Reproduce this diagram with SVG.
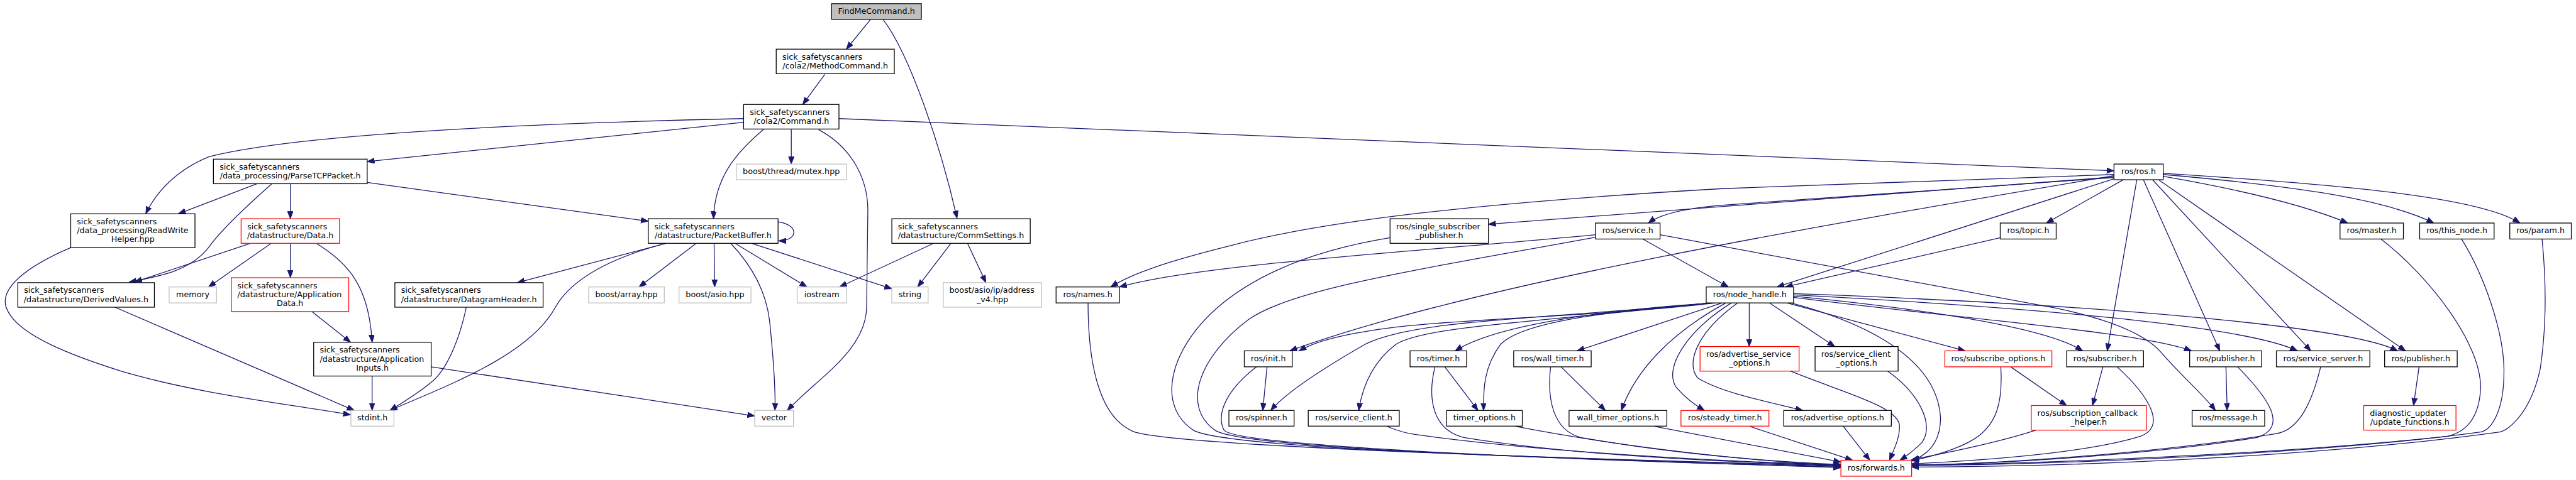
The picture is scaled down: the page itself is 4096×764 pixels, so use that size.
<svg xmlns="http://www.w3.org/2000/svg" width="4096" height="764" viewBox="0 0 4096 764">
<style>
.n rect{fill:#fff;stroke:#000;stroke-width:1.3}
.n.g rect{stroke:#bfbfbf}
.n.r rect{stroke:#ff0000}
.n.f rect{fill:#bfbfbf}
text{font-family:"DejaVu Sans","Liberation Sans",sans-serif;font-size:13px;fill:#000}
.c{text-anchor:middle}
#edges path{fill:none;stroke:#191970;stroke-width:1.3;marker-end:url(#a)}
</style>
<defs>
<marker id="a" markerUnits="userSpaceOnUse" markerWidth="14" markerHeight="11" refX="12" refY="4.5" orient="auto">
<path d="M0,0 L12,4.5 L0,9 z" fill="#191970" stroke="#191970" stroke-width="1"/>
</marker>
</defs>
<rect width="4096" height="764" fill="#fff"/>
<g transform="scale(0.978)">
<g id="edges">
<path d="M1415,32 L1376,80"/>
<path d="M1436,32 C1480,90 1530,240 1556,355"/>
<path d="M1341,121 L1305,170"/>
<path d="M1364,193 L3437,278"/>
<path d="M1209,193 C900,200 500,215 340,255 C290,275 255,310 237,348"/>
<path d="M1209,199 L597,263"/>
<path d="M1241,211 C1195,250 1162,290 1160,356"/>
<path d="M1286.5,211 L1286.5,267"/>
<path d="M1331,211 C1385,240 1410,290 1411,340 L1409,500 C1408,570 1330,615 1280,668"/>
<path d="M418,299 L290,348"/>
<path d="M442,299 C390,345 355,380 339,403 C310,440 260,450 210,459"/>
<path d="M472,299 L472,356"/>
<path d="M597,297 L1054,360"/>
<path d="M407,396 L219,459"/>
<path d="M441,396 L339,467"/>
<path d="M472,396 L472,452"/>
<path d="M514,396 C570,430 600,470 605,557"/>
<path d="M115,403 C40,435 0,470 10,500 C25,545 120,580 200,605 C320,640 450,655 570,675"/>
<path d="M187,500 L576,668"/>
<path d="M507,507 L570,557"/>
<path d="M605,612 L605,668"/>
<path d="M701,597 L1227,677"/>
<path d="M1265,361 C1300,366 1298,392 1266,392"/>
<path d="M1083,396 L841,460"/>
<path d="M1075,398 C960,430 920,470 903,500 C860,580 720,630 634,668"/>
<path d="M1132,396 L1039,467"/>
<path d="M1161,396 L1162,467"/>
<path d="M1188,396 C1225,435 1248,480 1252,530 C1258,590 1261,630 1260,668"/>
<path d="M1195,396 L1312,467"/>
<path d="M1222,396 L1450,470"/>
<path d="M758,500 C750,540 730,600 700,623 C680,640 655,655 634,668"/>
<path d="M1546,396 L1492,467"/>
<path d="M1573,396 L1603,460"/>
<path d="M1518,396 L1365,467"/>
<path d="M3437,284 L2800,307 C2400,330 2150,360 2000,400 C1900,425 1840,445 1806,467"/>
<path d="M3437,288 L2420,365"/>
<path d="M3437,289 L2800,334 C2740,339 2700,348 2680,363"/>
<path d="M3453,292 L3327,363"/>
<path d="M3252,387 L2903,467"/>
<path d="M3437,291 L2889,467"/>
<path d="M3437,286 C3000,360 2400,460 2097,571"/>
<path d="M2594,382 C2300,410 1950,430 1820,467"/>
<path d="M2671,389 L2810,467"/>
<path d="M2699,382 L3345,502 C3430,520 3490,545 3515,575 C3545,610 3580,640 3602,668"/>
<path d="M2594,386 C2300,440 2100,470 2030,520 C1950,580 1920,660 1975,700 C2020,730 2500,745 2993,761"/>
<path d="M2260,387 C2150,405 2050,440 1980,500 C1900,570 1880,660 1940,700 C1990,730 2500,745 2993,759"/>
<path d="M1769,493 C1769,600 1790,680 1842,702 C1900,725 2500,745 2993,758"/>
<path d="M2043,597 C2000,630 1975,670 1990,700 C2010,725 2500,748 2993,760"/>
<path d="M2060,597 L2053,668"/>
<path d="M2790,493 C2600,515 2350,520 2250,535 C2180,545 2140,555 2112,571"/>
<path d="M2782,493 C2500,520 2300,520 2220,560 C2150,600 2090,640 2066,668"/>
<path d="M2778,493 C2500,525 2320,530 2270,560 C2230,590 2215,630 2209,668"/>
<path d="M2255,694 C2270,700 2285,705 2300,707 C2500,735 2800,752 2993,756"/>
<path d="M2788,493 C2600,505 2430,530 2366,571"/>
<path d="M2800,493 L2564,571"/>
<path d="M2786,493 C2640,505 2480,520 2440,560 C2410,600 2412,640 2412,668"/>
<path d="M2806,493 C2720,540 2660,600 2636,668"/>
<path d="M2815,493 C2740,540 2705,600 2725,630 C2740,648 2755,658 2771,668"/>
<path d="M2844,493 L2844,564"/>
<path d="M2877,493 L2983,564"/>
<path d="M2825,493 C2760,540 2740,590 2760,615 C2800,640 2880,655 2931,668"/>
<path d="M2905,493 L3195,571"/>
<path d="M2912,493 C3050,530 3150,590 3155,680 C3155,720 3135,740 3108,750"/>
<path d="M2916,482 C3150,505 3330,535 3386,571"/>
<path d="M2916,484 C3200,520 3480,540 3563,571"/>
<path d="M2916,480 C3300,500 3650,530 3735,571"/>
<path d="M2916,478 C3400,495 3820,530 3898,571"/>
<path d="M3474,293 L3426,571"/>
<path d="M3485,293 L3609,571"/>
<path d="M3500,293 L3757,571"/>
<path d="M3510,293 L3911,571"/>
<path d="M3517,287 C3650,310 3750,335 3817,363"/>
<path d="M3517,284 C3700,300 3870,320 3957,363"/>
<path d="M3517,282 C3800,300 4030,320 4097,363"/>
<path d="M3871,389 C3950,450 4035,560 4033,633 C4030,690 4000,705 3980,710 C3700,740 3300,755 3108,757"/>
<path d="M4002,389 C4040,450 4070,540 4071,600 C4072,670 4050,700 4033,703 C3800,735 3400,755 3108,758"/>
<path d="M4133,389 C4138,440 4142,520 4130,600 C4115,670 4080,700 4064,703 C3800,740 3400,760 3108,760"/>
<path d="M3269,597 L3360,660"/>
<path d="M3253,597 C3256,650 3250,695 3200,720 C3175,733 3145,742 3108,750"/>
<path d="M3419,597 L3402,660"/>
<path d="M3442,597 C3500,650 3520,695 3480,710 C3400,735 3250,748 3108,755"/>
<path d="M3310,700 C3250,720 3160,738 3108,748"/>
<path d="M3619,597 L3621,668"/>
<path d="M3638,597 C3690,650 3720,695 3670,712 C3500,740 3250,755 3108,757"/>
<path d="M3773,597 C3760,650 3740,700 3700,706 C3500,738 3250,755 3108,757"/>
<path d="M3933,597 L3924,660"/>
<path d="M2349,597 L2403,668"/>
<path d="M2333,597 C2320,650 2330,700 2380,712 C2550,740 2800,752 2993,757"/>
<path d="M2538,597 L2610,668"/>
<path d="M2521,597 C2515,650 2525,700 2570,712 C2700,735 2850,750 2993,756"/>
<path d="M2464,694 C2650,730 2850,750 2993,758"/>
<path d="M2690,694 C2800,715 2900,735 2993,752"/>
<path d="M2845,694 L3012,749"/>
<path d="M2997,694 L3040,749"/>
<path d="M2911,604 C3000,640 3080,660 3088,690 C3090,710 3080,730 3072,749"/>
<path d="M3069,604 C3120,640 3145,690 3125,720 C3110,735 3100,742 3089,749"/>
</g>
<g id="n_findme" class="n f"><rect x="1352" y="6" width="146" height="25.5"/><text class="c" x="1425" y="22.5">FindMeCommand.h</text></g>
<g id="n_method" class="n"><rect x="1262" y="80" width="192" height="40"/><text x="1272" y="97">sick_safetyscanners</text><text class="c" x="1358" y="111.5">/cola2/MethodCommand.h</text></g>
<g id="n_command" class="n"><rect x="1209" y="170" width="155" height="40"/><text x="1219" y="187">sick_safetyscanners</text><text class="c" x="1286.5" y="201.5">/cola2/Command.h</text></g>
<g id="n_parse" class="n"><rect x="347" y="259" width="250" height="40"/><text x="357" y="276">sick_safetyscanners</text><text class="c" x="472" y="290.5">/data_processing/ParseTCPPacket.h</text></g>
<g id="n_rwhelper" class="n"><rect x="115" y="348" width="202" height="55"/><text x="125" y="365">sick_safetyscanners</text><text x="125" y="379.5">/data_processing/ReadWrite</text><text class="c" x="216" y="394">Helper.hpp</text></g>
<g id="n_data" class="n r"><rect x="392" y="356" width="160" height="40"/><text x="402" y="373">sick_safetyscanners</text><text class="c" x="472" y="387.5">/datastructure/Data.h</text></g>
<g id="n_derived" class="n"><rect x="29" y="460" width="222" height="40"/><text x="39" y="477">sick_safetyscanners</text><text class="c" x="140" y="491.5">/datastructure/DerivedValues.h</text></g>
<g id="n_memory" class="n g"><rect x="275" y="467" width="77" height="26"/><text class="c" x="313.5" y="483.5">memory</text></g>
<g id="n_appdata" class="n r"><rect x="376" y="452" width="191" height="55"/><text x="386" y="469">sick_safetyscanners</text><text x="386" y="483.5">/datastructure/Application</text><text class="c" x="471.5" y="498">Data.h</text></g>
<g id="n_appinputs" class="n"><rect x="510" y="557" width="191" height="55"/><text x="520" y="574">sick_safetyscanners</text><text x="520" y="588.5">/datastructure/Application</text><text class="c" x="605.5" y="603">Inputs.h</text></g>
<g id="n_stdint" class="n g"><rect x="570.5" y="668" width="70" height="25.5"/><text class="c" x="605.5" y="684.5">stdint.h</text></g>
<g id="n_packetbuffer" class="n"><rect x="1054" y="356" width="211" height="40"/><text x="1064" y="373">sick_safetyscanners</text><text class="c" x="1159.5" y="387.5">/datastructure/PacketBuffer.h</text></g>
<g id="n_datagram" class="n"><rect x="642" y="460" width="241" height="40"/><text x="652" y="477">sick_safetyscanners</text><text class="c" x="762.5" y="491.5">/datastructure/DatagramHeader.h</text></g>
<g id="n_array" class="n g"><rect x="957" y="467" width="123" height="26"/><text class="c" x="1018.5" y="483.5">boost/array.hpp</text></g>
<g id="n_asio" class="n g"><rect x="1104" y="467" width="117" height="26"/><text class="c" x="1162.5" y="483.5">boost/asio.hpp</text></g>
<g id="n_iostream" class="n g"><rect x="1296" y="467" width="80" height="26"/><text class="c" x="1336" y="483.5">iostream</text></g>
<g id="n_vector" class="n g"><rect x="1227" y="668" width="63" height="25.5"/><text class="c" x="1258.5" y="684.5">vector</text></g>
<g id="n_mutex" class="n g"><rect x="1197" y="267" width="179" height="25.5"/><text class="c" x="1286.5" y="283.5">boost/thread/mutex.hpp</text></g>
<g id="n_commsettings" class="n"><rect x="1450" y="356" width="225" height="40"/><text x="1460" y="373">sick_safetyscanners</text><text class="c" x="1562.5" y="387.5">/datastructure/CommSettings.h</text></g>
<g id="n_string" class="n g"><rect x="1450" y="467" width="59" height="26"/><text class="c" x="1479.5" y="483.5">string</text></g>
<g id="n_addr" class="n g"><rect x="1533.5" y="460" width="160" height="40"/><text x="1543.5" y="477">boost/asio/ip/address</text><text class="c" x="1613.5" y="491.5">_v4.hpp</text></g>
<g id="n_ros" class="n"><rect x="3437" y="267" width="80" height="25.5"/><text class="c" x="3477" y="283.5">ros/ros.h</text></g>
<g id="n_names" class="n"><rect x="1717" y="467" width="103" height="26"/><text class="c" x="1768.5" y="483.5">ros/names.h</text></g>
<g id="n_single" class="n"><rect x="2260" y="356" width="160" height="40"/><text x="2270" y="373">ros/single_subscriber</text><text class="c" x="2340" y="387.5">_publisher.h</text></g>
<g id="n_service" class="n"><rect x="2594" y="363" width="105" height="26"/><text class="c" x="2646.5" y="379.5">ros/service.h</text></g>
<g id="n_topic" class="n"><rect x="3252" y="363" width="91" height="26"/><text class="c" x="3297.5" y="379.5">ros/topic.h</text></g>
<g id="n_nodehandle" class="n"><rect x="2774" y="467" width="142" height="26"/><text class="c" x="2845" y="483.5">ros/node_handle.h</text></g>
<g id="n_master" class="n"><rect x="3804.5" y="363" width="103" height="26"/><text class="c" x="3856" y="379.5">ros/master.h</text></g>
<g id="n_thisnode" class="n"><rect x="3934" y="363" width="121" height="26"/><text class="c" x="3994.5" y="379.5">ros/this_node.h</text></g>
<g id="n_param" class="n"><rect x="4080.5" y="363" width="100" height="26"/><text class="c" x="4130.5" y="379.5">ros/param.h</text></g>
<g id="n_init" class="n"><rect x="2023" y="571" width="78" height="26"/><text class="c" x="2062" y="587.5">ros/init.h</text></g>
<g id="n_spinner" class="n"><rect x="1998" y="668" width="106" height="25.5"/><text class="c" x="2051" y="684.5">ros/spinner.h</text></g>
<g id="n_svcclient" class="n"><rect x="2127" y="668" width="148" height="25.5"/><text class="c" x="2201" y="684.5">ros/service_client.h</text></g>
<g id="n_timer" class="n"><rect x="2292.5" y="571" width="92" height="26"/><text class="c" x="2338.5" y="587.5">ros/timer.h</text></g>
<g id="n_timeropts" class="n"><rect x="2352" y="668" width="123" height="25.5"/><text class="c" x="2413.5" y="684.5">timer_options.h</text></g>
<g id="n_walltimer" class="n"><rect x="2461" y="571" width="126" height="26"/><text class="c" x="2524" y="587.5">ros/wall_timer.h</text></g>
<g id="n_walltimeropts" class="n"><rect x="2551" y="668" width="159" height="25.5"/><text class="c" x="2630.5" y="684.5">wall_timer_options.h</text></g>
<g id="n_steady" class="n r"><rect x="2733" y="668" width="143" height="25.5"/><text class="c" x="2804.5" y="684.5">ros/steady_timer.h</text></g>
<g id="n_advsvcopts" class="n r"><rect x="2764" y="564" width="161" height="40"/><text x="2774" y="581">ros/advertise_service</text><text class="c" x="2844.5" y="595.5">_options.h</text></g>
<g id="n_advopts" class="n"><rect x="2900" y="668" width="175" height="25.5"/><text class="c" x="2987.5" y="684.5">ros/advertise_options.h</text></g>
<g id="n_svcclientopts" class="n"><rect x="2951" y="564" width="135" height="40"/><text x="2961" y="581">ros/service_client</text><text class="c" x="3018.5" y="595.5">_options.h</text></g>
<g id="n_subopts" class="n r"><rect x="3162" y="571" width="174" height="26"/><text class="c" x="3249" y="587.5">ros/subscribe_options.h</text></g>
<g id="n_subhelper" class="n r"><rect x="3302.5" y="660" width="187" height="40"/><text x="3312.5" y="677">ros/subscription_callback</text><text class="c" x="3396" y="691.5">_helper.h</text></g>
<g id="n_subscriber" class="n"><rect x="3360" y="571" width="125" height="26"/><text class="c" x="3422.5" y="587.5">ros/subscriber.h</text></g>
<g id="n_publisher1" class="n"><rect x="3560" y="571" width="117" height="26"/><text class="c" x="3618.5" y="587.5">ros/publisher.h</text></g>
<g id="n_message" class="n"><rect x="3564" y="668" width="118" height="25.5"/><text class="c" x="3623" y="684.5">ros/message.h</text></g>
<g id="n_svcserver" class="n"><rect x="3701" y="571" width="152" height="26"/><text class="c" x="3777" y="587.5">ros/service_server.h</text></g>
<g id="n_publisher2" class="n"><rect x="3877" y="571" width="118" height="26"/><text class="c" x="3936" y="587.5">ros/publisher.h</text></g>
<g id="n_diag" class="n r"><rect x="3843" y="660" width="150" height="40"/><text x="3853" y="677">diagnostic_updater</text><text class="c" x="3918" y="691.5">/update_functions.h</text></g>
<g id="n_forwards" class="n r"><rect x="2993" y="749" width="115" height="26"/><text class="c" x="3050.5" y="765.5">ros/forwards.h</text></g>
</g>
</svg>
